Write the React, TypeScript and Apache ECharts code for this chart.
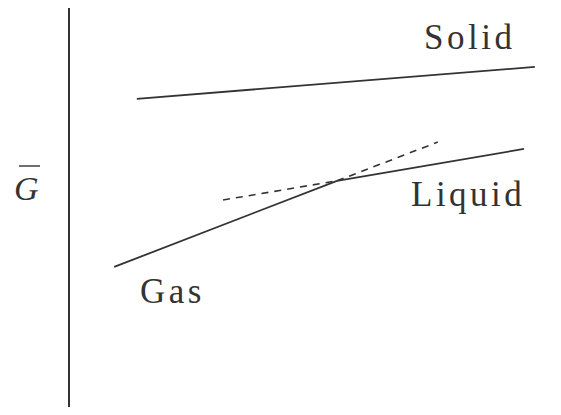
import React, { useEffect, useRef } from "react";
import * as echarts from "echarts";

// Molar Gibbs energy vs. temperature for the three phases (arbitrary units)
const solidT = [14.4, 98.9];
const solidG = [77.5, 85.3];
const gasT = [9.6, 56.9];
const gasG = [36.3, 57.4];
const liquidT = [56.9, 96.6];
const liquidG = [57.4, 65.2];
// metastable continuations of the liquid and gas branches
const liquidExtT = [32.7, 56.9];
const liquidExtG = [52.7, 57.4];
const gasExtT = [56.9, 78.3];
const gasExtG = [57.4, 66.9];

const phaseLabels = ["Solid", "Liquid", "Gas"];
const axisSymbol = "G";

const pairs = (xs: number[], ys: number[]) => xs.map((x, i) => [x, ys[i]]);

const INK = "#333333";
const FONT = "'Liberation Serif', 'DejaVu Serif', serif";

export default function App() {
  const ref = useRef<HTMLDivElement>(null);

  useEffect(() => {
    if (!ref.current) return;
    const chart = echarts.init(ref.current, undefined, { renderer: "svg" });

    const solidLine = { type: "line", symbol: "none", lineStyle: { color: INK, width: 1.8 } };
    const dashLine = {
      type: "line",
      symbol: "none",
      lineStyle: { color: INK, width: 1.6, type: [7, 6] },
    };

    const textStyle = (text: string, extra: any = {}) => ({
      text,
      fill: INK,
      font: `35px ${FONT}`,
      verticalAlign: "middle",
      ...extra,
    });

    chart.setOption({
      animation: false,
      backgroundColor: "#ffffff",
      grid: { left: 69, right: 21, top: 7, bottom: 0 },
      xAxis: {
        type: "value",
        min: 0,
        max: 100,
        show: false,
      },
      yAxis: {
        type: "value",
        min: 0,
        max: 100,
        axisLine: { show: true, onZero: false, lineStyle: { color: INK, width: 2 } },
        axisTick: { show: false },
        axisLabel: { show: false },
        splitLine: { show: false },
      },
      series: [
        { ...solidLine, name: phaseLabels[0], data: pairs(solidT, solidG) },
        { ...solidLine, name: phaseLabels[1], data: pairs(liquidT, liquidG) },
        { ...solidLine, name: phaseLabels[2], data: pairs(gasT, gasG) },
        { ...dashLine, name: "liquid-ext", data: pairs(liquidExtT, liquidExtG) },
        { ...dashLine, name: "gas-ext", data: pairs(gasExtT, gasExtG) },
      ],
      graphic: [
        { type: "text", x: 424, y: 37, style: textStyle(phaseLabels[0]) },
        { type: "text", x: 411, y: 194, style: textStyle(phaseLabels[1]) },
        { type: "text", x: 140, y: 291, style: textStyle(phaseLabels[2]) },
        {
          type: "text",
          x: 14,
          y: 188,
          style: textStyle(axisSymbol, { font: `italic 34px ${FONT}` }),
        },
        {
          type: "line",
          shape: { x1: 19, y1: 166, x2: 40, y2: 166 },
          style: { stroke: INK, lineWidth: 1.4 },
        },
      ],
    });

    return () => chart.dispose();
  }, []);

  return (
    <>
      {/* widely tracked serif lettering for the phase names */}
      <style>{`.gibbs-chart svg text { letter-spacing: 3.5px; }`}</style>
      <div
        ref={ref}
        className="gibbs-chart"
        style={{ width: 561, height: 415, margin: -8 }}
      />
    </>
  );
}
